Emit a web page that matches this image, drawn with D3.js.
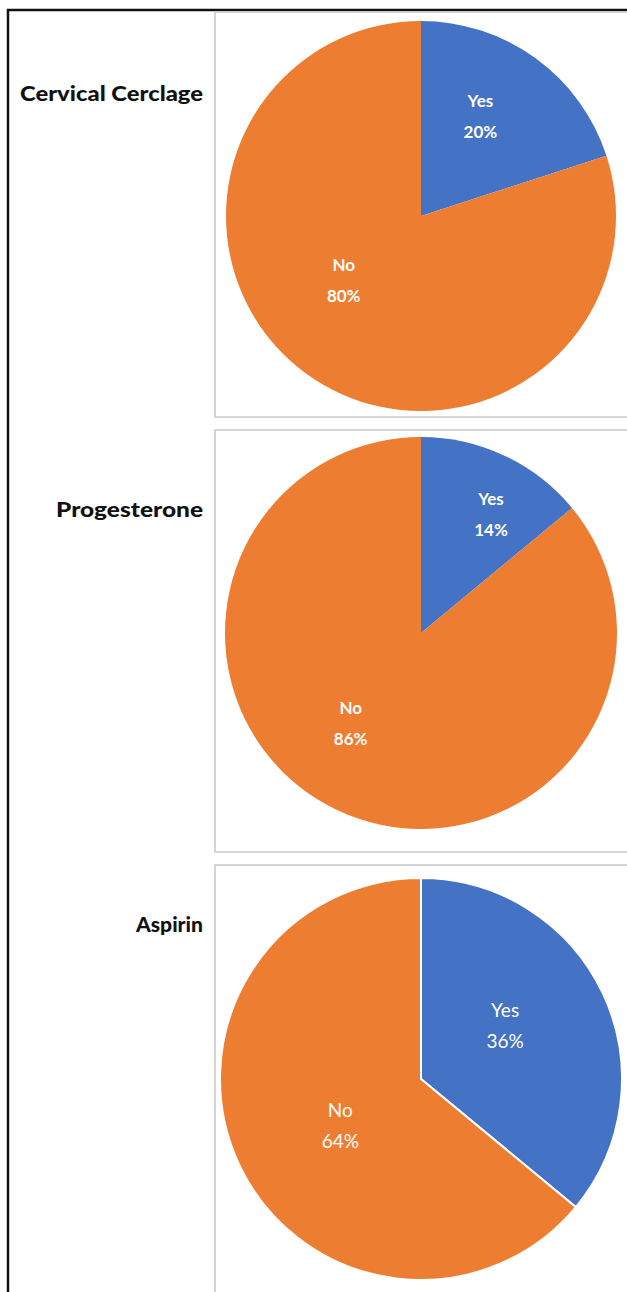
<!DOCTYPE html>
<html>
<head>
<meta charset="utf-8">
<script src="https://cdn.jsdelivr.net/npm/d3@7/dist/d3.min.js"></script>
<style>
  html, body { margin: 0; padding: 0; background: #ffffff; }
  svg { display: block; }
</style>
</head>
<body>
<svg id="chart" width="627" height="1292"></svg>
<script>
// Treatment names, one pie per row
const treatments = ["Cervical Cerclage", "Progesterone", "Aspirin"];
// Slice categories
const categories = ["Yes", "No"];
// Percent of patients per category, in treatment order
const yesPercent = [20, 14, 36];
const noPercent = [80, 86, 64];

// Row layout
const rowTop = [12, 430, 865];
const rowBottom = [417, 852, 1310];
const pieCenterY = [216, 633, 1079];
const pieRadius = [195, 196, 201];
const titleY = [92, 508, 923];
const titleWidth = [183, 147, 67];
const labelBold = [true, true, false];
const labelSize = [17, 17, 19];
const sliceStroke = ["none", "none", "#ffffff"];
// Label placement per row, [Yes, No]: fraction of the radius, and turn (deg) from the slice middle
const labelRadius = [[0.6, 0.51], [0.71, 0.58], [0.5, 0.46]];
const labelTurn = [[-5.5, 15], [5, 13], [-8, -4]];

const W = 627, H = 1292;
const colX = 215;          // left edge of the pie column
const pieCX = 421;         // horizontal centre of every pie

const color = d3.scaleOrdinal().domain(categories).range(["#4472C4", "#ED7D31"]);

const svg = d3.select("#chart");

// Outer table frame (top + left rules)
svg.append("line").attr("x1", 7).attr("x2", W).attr("y1", 10).attr("y2", 10)
  .attr("stroke", "#111").attr("stroke-width", 2.5);
svg.append("line").attr("x1", 8).attr("x2", 8).attr("y1", 9).attr("y2", H)
  .attr("stroke", "#111").attr("stroke-width", 2.5);

const pie = d3.pie().sort(null).value(d => d.value).startAngle(0).endAngle(2 * Math.PI);

treatments.forEach((name, i) => {
  const rows = categories.map((c, k) => ({ category: c, value: k === 0 ? yesPercent[i] : noPercent[i] }));
  const r = pieRadius[i];

  // Chart area border
  svg.append("rect")
    .attr("x", colX).attr("y", rowTop[i])
    .attr("width", W - colX + 10).attr("height", rowBottom[i] - rowTop[i])
    .attr("fill", "none").attr("stroke", "#c8c8c8").attr("stroke-width", 1.5);

  // Row title
  svg.append("text")
    .attr("x", 203).attr("y", titleY[i])
    .attr("text-anchor", "end").attr("dominant-baseline", "central")
    .attr("font-family", "Lato, 'Open Sans', sans-serif")
    .attr("font-weight", 900).attr("font-size", 21)
    .attr("textLength", titleWidth[i]).attr("lengthAdjust", "spacingAndGlyphs")
    .attr("fill", "#111")
    .text(name);

  const g = svg.append("g").attr("transform", `translate(${pieCX},${pieCenterY[i]})`);
  const arc = d3.arc().innerRadius(0).outerRadius(r);

  const arcs = pie(rows);
  g.selectAll("path").data(arcs).join("path")
    .attr("d", arc)
    .attr("fill", d => color(d.data.category))
    .attr("stroke", sliceStroke[i])
    .attr("stroke-width", 2);

  const labelPos = (d, k) => {
    const a = (d.startAngle + d.endAngle) / 2 + labelTurn[i][k] * Math.PI / 180;
    const rr = r * labelRadius[i][k];
    return [rr * Math.sin(a), -rr * Math.cos(a)];
  };

  const lbl = g.selectAll("text").data(arcs).join("text")
    .attr("transform", (d, k) => `translate(${labelPos(d, k)})`)
    .attr("text-anchor", "middle")
    .attr("dominant-baseline", "central")
    .attr("font-family", "Lato, 'Open Sans', sans-serif")
    .attr("font-weight", labelBold[i] ? "bold" : "normal")
    .attr("font-size", labelSize[i])
    .attr("fill", "#ffffff");
  lbl.append("tspan").attr("x", 0).attr("y", -15).text(d => d.data.category);
  lbl.append("tspan").attr("x", 0).attr("y", 16).text(d => d.data.value + "%");
});
</script>
</body>
</html>
